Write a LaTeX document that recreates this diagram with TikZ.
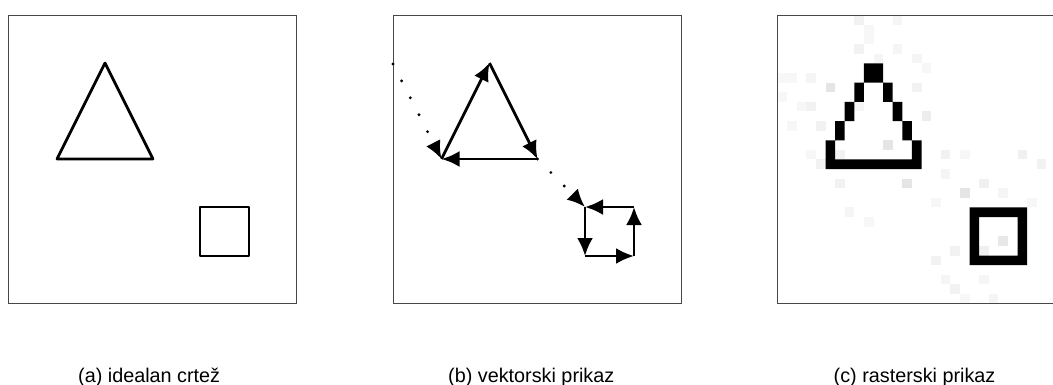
\documentclass[tikz,border=0pt]{standalone}
\usepackage{fontspec}
\setmainfont{Liberation Sans}
\usetikzlibrary{arrows.meta}
\begin{document}
\begin{tikzpicture}[x=1pt,y=-1pt,
  frame/.style={draw=black!72,line width=1.3pt},
  outline/.style={draw=black,line width=2.7pt,line join=round,line cap=round},
  vec/.style={draw=black,line width=2.7pt,-{Latex[length=18pt,width=16pt]}},
  jump/.style={draw=black,line width=3.2pt,line cap=round,dash pattern=on 0pt off 19pt,-{Latex[length=18pt,width=16pt]}},
  lbl/.style={font=\fontsize{19.8}{24}\selectfont,anchor=base west,inner sep=0pt}]
\useasboundingbox (0,0) rectangle (1053,385);
\fill[white] (0,0) rectangle (1053,385);

% ---------- panel (a): ideal drawing ----------
\draw[frame] (8.5,15.5) rectangle (296.5,303.5);
\coordinate (aT) at (105,63);
\coordinate (aL) at (57,159);
\coordinate (aR) at (153,159);
\coordinate (aS1) at (200,207);
\coordinate (aS2) at (249,256);
\draw[outline] (aT) -- (aR) -- (aL) -- cycle;
\draw[outline] (aS1) rectangle (aS2);

% ---------- panel (b): vector display ----------
\draw[frame] (393.5,15.5) rectangle (681.5,303.5);
\coordinate (bS) at (393,64);
\coordinate (bT) at (489.5,63);
\coordinate (bL) at (441.5,159);
\coordinate (bR) at (537.5,159);
\coordinate (bTL) at (585,207);
\coordinate (bTR) at (634,207);
\coordinate (bBL) at (585,256);
\coordinate (bBR) at (634,256);
\draw[jump] (bS) -- (bL);
\draw[vec] (bL) -- (bT);
\draw[vec] (bT) -- (bR);
\draw[vec] (bR) -- (bL);
\draw[jump] (bR) -- (bTL);
\draw[vec] (bTL) -- (bBL);
\draw[vec] (bBL) -- (bBR);
\draw[vec] (bBR) -- (bTR);
\draw[vec] (bTR) -- (bTL);

% ---------- panel (c): raster display ----------
\foreach \c/\r/\g in {8/0/5,12/0/4,9/1/3,9/2/3,8/3/5,12/3/4,10/4/4,14/4/4,
  15/5/3,5/7/10,14/7/5,0/6/3,1/6/3,3/6/4,0/8/3,2/9/3,3/9/5,8/9/4,
  15/10/7,4/11/5,1/11/3,11/13/10,6/14/5,4/15/5,3/14/3,17/14/5,19/14/3,25/14/6,
  13/17/10,6/17/5,19/18/10,17/16/4,21/17/6,23/18/4,16/19/3,9/21/3,7/20/4,
  23/23/9,21/24/6,18/24/5,16/25/5,18/28/5,21/27/4,27/15/5,26/19/3,17/27/4,19/29/3,22/29/4}
  \fill[black!\g] ({777.5+9.6*\c},{15.5+9.6*\r}) rectangle ++(9.6,9.6);
\fill[black]
  \foreach \c/\r in {9/5,10/5,9/6,10/6,
    8/7,8/8,7/9,7/10,6/11,6/12,5/13,5/14,
    11/7,11/8,12/9,12/10,13/11,13/12,14/13,14/14,
    5/15,6/15,7/15,8/15,9/15,10/15,11/15,12/15,13/15,14/15,
    20/20,21/20,22/20,23/20,24/20,25/20,
    20/25,21/25,22/25,23/25,24/25,25/25,
    20/21,20/22,20/23,20/24,25/21,25/22,25/23,25/24}
  {({777.5+9.6*\c},{15.5+9.6*\r}) rectangle ++(9.6,9.6)};
\draw[frame] (1053,15.5) -- (777.5,15.5) -- (777.5,303.5) -- (1053,303.5);

% ---------- labels ----------
\node[lbl] (la) at (78,382.5) {(a) idealan crtež};
\node[lbl] (lb) at (448,382.5) {(b) vektorski prikaz};
\node[lbl] (lc) at (833.5,382.5) {(c) rasterski prikaz};
\end{tikzpicture}
\end{document}
